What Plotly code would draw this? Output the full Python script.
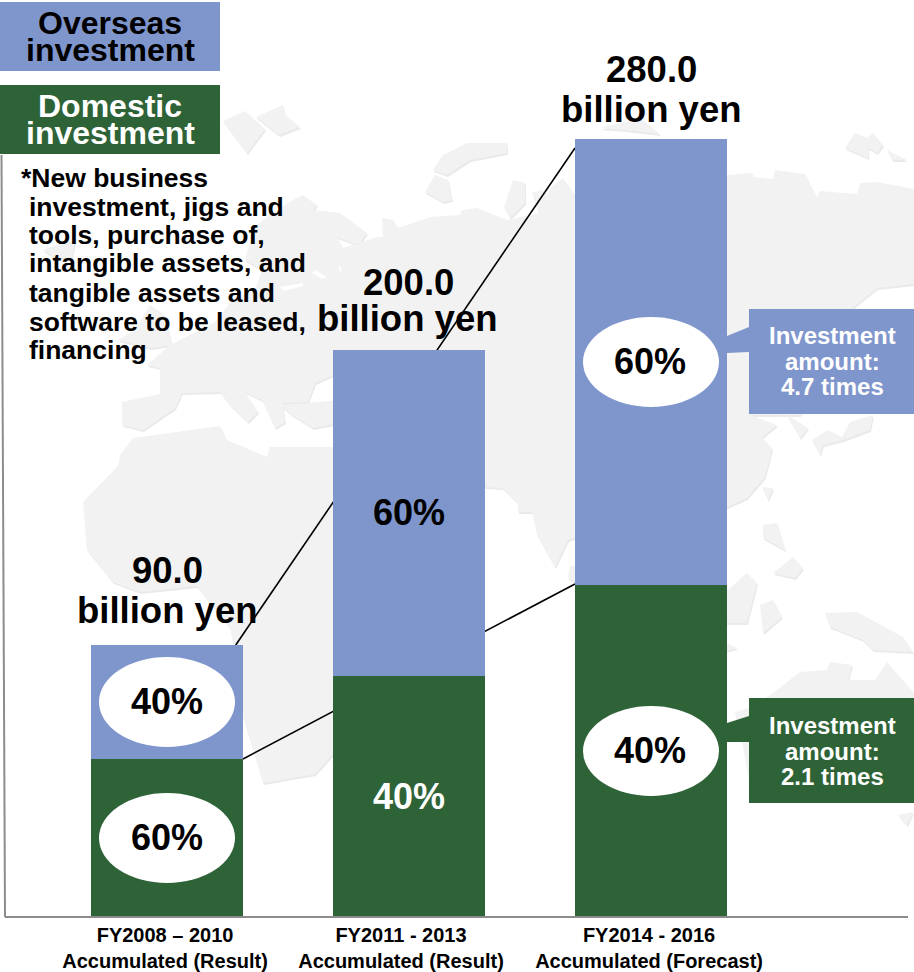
import plotly.graph_objects as go

# ---------- data ----------
categories = ["FY2008 – 2010<br>Accumulated (Result)",
              "FY2011 - 2013<br>Accumulated (Result)",
              "FY2014 - 2016<br>Accumulated (Forecast)"]
bar_pos = [0, 1, 2]
label_pos = [-0.008, 0.967, 1.992]
domestic = [56.1, 85.7, 118.2]
overseas = [40.7, 116.4, 159.3]
total_labels = ["90.0", "200.0", "280.0"]
overseas_share = ["40%", "60%", "60%"]
domestic_share = ["60%", "40%", "40%"]
note_lines = ["*New business", "investment, jigs and", "tools, purchase of,",
              "intangible assets, and", "tangible assets and",
              "software to be leased,", "financing"]

BLUE, GREEN = "#7F96CD", "#2E6337"
FONT = "Liberation Sans"
W, H = 914, 972
L, R, T, B = 5, 908, 0, 916
BAR_W = 152 / 242


def px(x):
    return (x - L) / (R - L)


def py(y):
    return (B - y) / (B - T)


shapes, annos = [], []


def path(points, dx=0, dy=0):
    return "M" + "L".join(f"{px(x + dx):.5f},{py(y + dy):.5f}" for x, y in points) + "Z"


def poly(points, color, layer="below", dx=0, dy=0):
    shapes.append(dict(type="path", path=path(points, dx, dy), xref="paper", yref="paper",
                       fillcolor=color, line=dict(width=0), layer=layer))


def rect(x0, y0, x1, y1, color):
    shapes.append(dict(type="rect", xref="paper", yref="paper", x0=px(x0), x1=px(x1),
                       y0=py(y1), y1=py(y0), fillcolor=color, line=dict(width=0), layer="above"))


def oval(cx, cy, rx=68, ry=45):
    shapes.append(dict(type="circle", xref="paper", yref="paper", x0=px(cx - rx), x1=px(cx + rx),
                       y0=py(cy + ry), y1=py(cy - ry), fillcolor="white", line=dict(width=0), layer="above"))


def text(x, y, s, size, color="black", anchor="center"):
    annos.append(dict(x=px(x), y=py(y), xref="paper", yref="paper", text=f"<b>{s}</b>", showarrow=False,
                      xanchor=anchor, yanchor="middle", borderpad=0,
                      font=dict(family=FONT, size=size, color=color)))


# ---------- faint world map backdrop (decoration only) ----------
land = [
    [(223, 121), (245, 111), (265, 129), (247, 153)],
    [(256, 117), (283, 105), (285, 115), (300, 127), (279, 135)],
    [(43, 250), (62, 243), (75, 241), (72, 257), (55, 258)],
    [(118, 340), (135, 330), (150, 305), (165, 315), (172, 345), (150, 348)],
    [(433, 170), (443, 155), (467, 143), (507, 143), (507, 153), (470, 160), (447, 175)],
    [(425, 192), (435, 175), (448, 180), (452, 200), (443, 202)],
    [(504, 207), (513, 180), (525, 183), (525, 203), (510, 218)],
    [(532, 193), (542, 190), (550, 197), (540, 217)],
    [(600, 128), (640, 118), (660, 134), (625, 130)],
    [(845, 148), (855, 133), (867, 138), (873, 133), (883, 145), (877, 153), (868, 148), (868, 158)],
    [(887, 150), (907, 160), (892, 160)],
    # Eurasia
    [(914, 189), (914, 284), (877, 288), (852, 308), (800, 415), (750, 415), (777, 425), (762, 437),
     (772, 448), (765, 477), (747, 498), (727, 507), (600, 530), (568, 540), (555, 567), (537, 535),
     (532, 512), (518, 512), (518, 503), (503, 488), (485, 487), (400, 440), (333, 375), (315, 383),
     (308, 402), (282, 403), (285, 422), (275, 428), (262, 400), (245, 392), (258, 412), (248, 422),
     (232, 407), (220, 392), (182, 393), (175, 408), (143, 430), (122, 425), (122, 402), (160, 394),
     (160, 368), (147, 365), (170, 345), (215, 322), (232, 300), (255, 290), (262, 270), (245, 260),
     (253, 228), (270, 215), (293, 200), (303, 195), (317, 205), (313, 210), (340, 213), (367, 233),
     (358, 245), (337, 237), (343, 248), (377, 237), (383, 237), (382, 218), (393, 220), (398, 228),
     (430, 217), (460, 215), (462, 210), (477, 208), (507, 220), (540, 213), (550, 188), (563, 178),
     (575, 195), (575, 175), (727, 175), (752, 173), (753, 177), (773, 179), (775, 170), (805, 174),
     (812, 188), (817, 197), (820, 191), (857, 194), (860, 183), (877, 182)],
    # Anatolia
    [(292, 415), (280, 405), (308, 403), (340, 400), (340, 423), (313, 428)],
    # Africa
    [(120, 455), (133, 438), (220, 426), (227, 440), (267, 457), (270, 447), (400, 447), (400, 700),
     (333, 754), (315, 774), (263, 783), (243, 717), (233, 644), (230, 628), (197, 586), (140, 592),
     (113, 582), (87, 550), (83, 502), (118, 466)],
    [(570, 566), (575, 566), (575, 582), (568, 578)],
    [(787, 415), (808, 428), (800, 438)],
    [(812, 440), (828, 430), (842, 437), (850, 422), (873, 415), (870, 430), (843, 440), (823, 445), (820, 455)],
    [(762, 487), (773, 488), (768, 500)],
    [(763, 525), (777, 523), (785, 550), (763, 538)],
    [(773, 573), (793, 557), (803, 568), (795, 578)],
    [(700, 590), (728, 590), (747, 573), (757, 583), (747, 623), (700, 623)],
    [(760, 605), (773, 600), (782, 617), (763, 633)],
    [(720, 640), (737, 648), (720, 652)],
    [(825, 613), (857, 612), (903, 637), (913, 652), (873, 650), (863, 640), (830, 627)],
    [(773, 693), (800, 672), (827, 670), (830, 662), (852, 665), (848, 680), (875, 680), (887, 662),
     (914, 693), (914, 760), (749, 780), (743, 747), (735, 712), (749, 708)],
    [(898, 815), (913, 812), (907, 825)],
]
gaps = [[(315, 270), (327, 277), (322, 279), (312, 273)],
        [(338, 265), (342, 270), (340, 272)],
        [(280, 287), (303, 283), (303, 286), (284, 291)]]
for p in land:
    poly(p, "#EAEAEA", dx=1, dy=2)
for p in land:
    poly(p, "#F2F2F2")
for p in gaps:
    poly(p, "white")

# ---------- connector lines, computed from the bars ----------
tot = [d + o for d, o in zip(domestic, overseas)]
shapes.append(dict(type="line", xref="x", yref="y", layer="below", line=dict(color="black", width=1.6),
                   x0=bar_pos[0] + BAR_W / 2 - 0.03, y0=tot[0],
                   x1=bar_pos[2] - BAR_W / 2, y1=tot[2] - 3.2))
shapes.append(dict(type="line", xref="x", yref="y", layer="below", line=dict(color="black", width=1.6),
                   x0=bar_pos[0] + BAR_W / 2, y0=domestic[0],
                   x1=bar_pos[2] - BAR_W / 2, y1=domestic[2] + 0.4))
# tilted left axis line
shapes.append(dict(type="line", xref="paper", yref="paper", layer="above", line=dict(color="#8C8C8C", width=2),
                   x0=px(1.5), y0=py(155), x1=px(5), y1=py(917)))

# ---------- legend blocks ----------
rect(0, 2, 220, 71, BLUE)
rect(0, 85, 220, 154, GREEN)
text(110, 23, "Overseas", 32)
text(110, 50, "investment", 32)
text(110, 106, "Domestic", 32, "white")
text(110, 133, "investment", 32, "white")

# note
for i, (line, y) in enumerate(zip(note_lines, [178, 207, 235, 263, 293, 322, 350])):
    text(20 if i == 0 else 28, y, line, 26.5, anchor="left")

# ---------- totals ----------
for lab, x, y1, y2, x2 in zip(total_labels, [167, 408, 651], [570, 282, 69], [611, 318, 109], [167, 407, 651]):
    text(x, y1, lab, 36.5)
    text(x2, y2, "billion yen", 36.5)

# ---------- shares ----------
oval(167, 702)
oval(167, 838)
oval(651, 362)
oval(651, 751)
text(167, 701, overseas_share[0], 36)
text(167, 837, domestic_share[0], 36)
text(409, 512, overseas_share[1], 36)
text(409, 796, domestic_share[1], 36, "white")
text(650, 361, overseas_share[2], 36)
text(650, 750, domestic_share[2], 36)

# ---------- callouts ----------
poly([(727, 336), (749, 327), (749, 352), (727, 353)], BLUE, "above")
rect(749, 309, 914, 414, BLUE)
poly([(727, 723), (749, 716), (749, 742), (727, 742)], GREEN, "above")
rect(749, 698, 914, 803, GREEN)
for s, y in zip(["Investment", "amount:", "4.7 times"], [336, 361, 386]):
    text(832, y, s, 24, "white")
for s, y in zip(["Investment", "amount:", "2.1 times"], [725, 751, 776]):
    text(832, y, s, 24, "white")

# ---------- figure ----------
fig = go.Figure()
fig.add_bar(x=bar_pos, y=domestic, name="Domestic investment", marker=dict(color=GREEN, line=dict(width=0)),
            width=BAR_W, showlegend=False)
fig.add_bar(x=bar_pos, y=overseas, name="Overseas investment", marker=dict(color=BLUE, line=dict(width=0)),
            width=BAR_W, showlegend=False)
fig.update_layout(
    barmode="stack", width=W, height=H, margin=dict(l=L, r=W - R, t=T, b=H - B, autoexpand=False),
    paper_bgcolor="white", plot_bgcolor="rgba(0,0,0,0)", shapes=shapes, annotations=annos,
    font=dict(family=FONT),
    xaxis=dict(range=[(L - 167) / 242, (R - 167) / 242], tickmode="array", tickvals=label_pos, ticktext=categories,
               showgrid=False, zeroline=False, showline=True, linecolor="#8C8C8C", linewidth=2, ticks="",
               tickangle=0, tickfont=dict(family=FONT, size=20, color="black"), ticklabelstandoff=0),
    yaxis=dict(range=[0, (B - T) / 2.8], visible=False),
)
fig.update_xaxes(ticktext=[f"<b>{c.replace('<br>', '</b><br><b>')}</b>" for c in categories])
fig.write_html("out.html", post_script="document.body.style.margin='0';document.body.style.overflow='hidden';",
               config=dict(displayModeBar=False))
